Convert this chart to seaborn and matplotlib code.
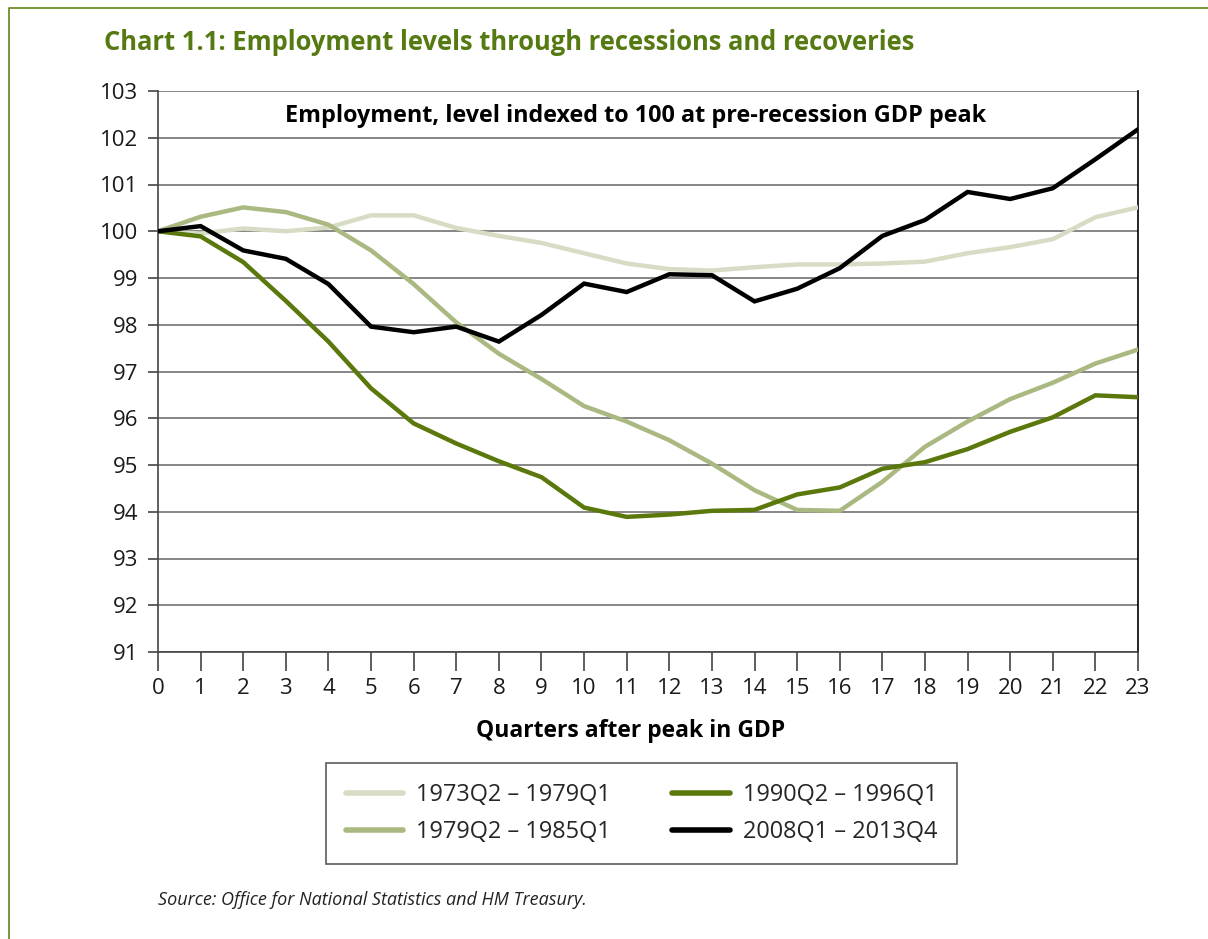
import matplotlib
matplotlib.use("Agg")
import matplotlib.pyplot as plt
from matplotlib.lines import Line2D
import numpy as np
import pandas as pd
import seaborn as sns

# Quarters after the pre-recession GDP peak
quarters = list(range(24))

# Employment level, indexed to 100 at the GDP peak
emp_1973 = [100.00, 99.95, 100.06, 100.00, 100.08, 100.34, 100.34, 100.07, 99.90, 99.75,
            99.53, 99.31, 99.19, 99.16, 99.23, 99.29, 99.29, 99.31, 99.35, 99.53,
            99.66, 99.83, 100.30, 100.51]
emp_1979 = [100.00, 100.31, 100.51, 100.41, 100.14, 99.59, 98.87, 98.05, 97.38, 96.84,
            96.26, 95.93, 95.53, 95.03, 94.46, 94.04, 94.02, 94.64, 95.39, 95.93,
            96.41, 96.76, 97.17, 97.47]
emp_1990 = [100.00, 99.89, 99.34, 98.51, 97.64, 96.64, 95.89, 95.46, 95.08, 94.74,
            94.09, 93.89, 93.94, 94.02, 94.04, 94.37, 94.52, 94.92, 95.06, 95.34,
            95.71, 96.02, 96.49, 96.45]
emp_2008 = [100.00, 100.11, 99.59, 99.41, 98.87, 97.96, 97.84, 97.96, 97.64, 98.21,
            98.88, 98.70, 99.08, 99.06, 98.50, 98.77, 99.21, 99.90, 100.24, 100.84,
            100.69, 100.92, 101.54, 102.18]

series_names = ["1973Q2 \u2013 1979Q1", "1979Q2 \u2013 1985Q1",
                "1990Q2 \u2013 1996Q1", "2008Q1 \u2013 2013Q4"]
series_values = [emp_1973, emp_1979, emp_1990, emp_2008]
series_colors = ["#d6ddc4", "#a9b981", "#5a780b", "#000000"]

y_ticks = list(range(91, 104))
x_ticks = quarters

df = pd.concat(
    [pd.DataFrame({"quarter": quarters, "level": vals, "period": name})
     for name, vals in zip(series_names, series_values)],
    ignore_index=True,
)

sns.set_theme(style="white")
plt.rcParams["font.family"] = ["Open Sans", "DejaVu Sans"]

fig = plt.figure(figsize=(12.08, 9.39), dpi=100)
ax = fig.add_axes([158 / 1208, 1 - 652 / 939, 980 / 1208, 561 / 939])

# horizontal gridlines
for yv in y_ticks:
    ax.axhline(yv, color="#666666", lw=1.1, zorder=1)

palette = dict(zip(series_names, series_colors))
sns.lineplot(data=df, x="quarter", y="level", hue="period", palette=palette,
             linewidth=3.2, ax=ax, legend=False, zorder=3,
             solid_joinstyle="miter")

ax.set_xlim(0, 23)
ax.set_ylim(91, 103)
ax.set_xticks(x_ticks)
ax.set_yticks(y_ticks)
ax.tick_params(axis="x", direction="out", length=14, width=1.2, color="#444444",
               pad=5, labelsize=16, labelcolor="#1a1a1a", bottom=True)
ax.tick_params(axis="y", direction="out", length=7, width=1.2, color="#444444",
               pad=7, labelsize=16, labelcolor="#1a1a1a", left=True)
ax.set_xlabel("")
ax.set_ylabel("")

for side in ["top"]:
    ax.spines[side].set_visible(False)
ax.spines["left"].set_color("#444444")
ax.spines["left"].set_linewidth(1.2)
ax.spines["bottom"].set_color("#444444")
ax.spines["bottom"].set_linewidth(1.2)
ax.spines["right"].set_color("#000000")
ax.spines["right"].set_linewidth(1.2)

ax.text(0.487, 0.955, "Employment, level indexed to 100 at pre-recession GDP peak",
        transform=ax.transAxes, ha="center", va="center", fontsize=16.8,
        fontweight="bold", color="#000000")

fig.text(631 / 1208, 1 - 731 / 939, "Quarters after peak in GDP", ha="center", va="center",
         fontsize=16.5, fontweight="bold", color="#000000")

handles = [Line2D([0], [0], color=c, lw=4, solid_capstyle="round") for c in series_colors]
leg = ax.legend(handles, series_names, ncol=2, loc="upper left",
                bbox_to_anchor=(326 / 1208, 1 - 763 / 939), bbox_transform=fig.transFigure,
                fontsize=16.9, frameon=True, fancybox=False, edgecolor="#333333",
                handlelength=2.45, handletextpad=0.55, columnspacing=2.6,
                labelspacing=0.55, borderpad=0.85, borderaxespad=0)
leg.get_frame().set_linewidth(1.2)

fig.text(104 / 1208, 1 - 42 / 939, "Chart 1.1: Employment levels through recessions and recoveries",
         ha="left", va="center", fontsize=18.4, fontweight="bold", color="#567a12")
fig.text(158 / 1208, 1 - 900 / 939, "Source: Office for National Statistics and HM Treasury.",
         ha="left", va="center", fontsize=13, style="italic", color="#222222")

# page frame (top and left rules)
fig.add_artist(Line2D([9 / 1208, 9 / 1208, 1.0], [0.0, 1 - 8 / 939, 1 - 8 / 939],
                      transform=fig.transFigure, color="#6d8f2a", lw=1.3))

fig.savefig("out.png", dpi=100)
